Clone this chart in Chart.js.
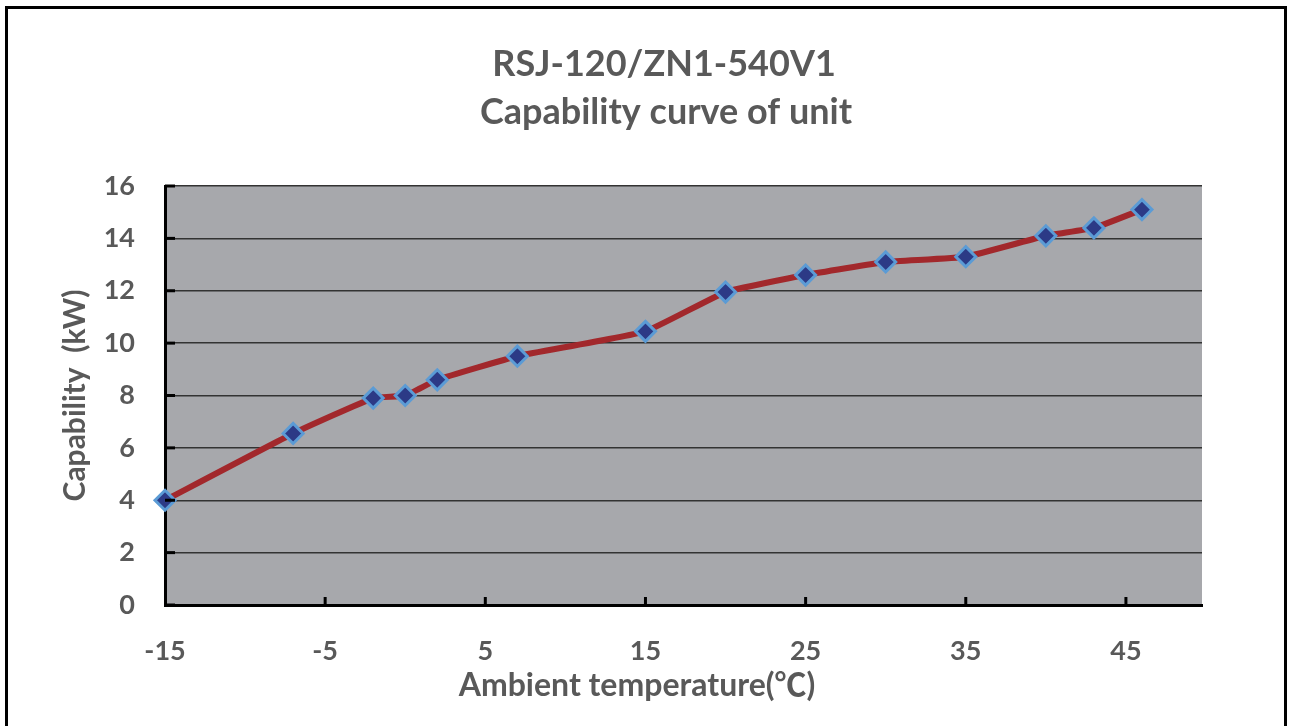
<!DOCTYPE html>
<html>
<head>
<meta charset="utf-8">
<script src="https://cdn.jsdelivr.net/npm/chart.js@4.4.1/dist/chart.umd.min.js"></script>
<style>
  html, body { margin: 0; padding: 0; background: #fff; }
  #wrap { width: 1294px; height: 726px; }
</style>
</head>
<body>
<div id="wrap"><canvas id="chart1" width="1294" height="726"></canvas></div>
<script>
// values
const temps = [-15, -7, -2, 0, 2, 7, 15, 20, 25, 30, 35, 40, 43, 46];
const capability = [4.0, 6.55, 7.9, 8.0, 8.6, 9.5, 10.45, 11.95, 12.6, 13.1, 13.3, 14.1, 14.4, 15.1];
const xTicks = [-15, -5, 5, 15, 25, 35, 45];
const yTicks = [0, 2, 4, 6, 8, 10, 12, 14, 16];
const titleLines = ['RSJ-120/ZN1-540V1', 'Capability curve of unit'];
const xTitle = 'Ambient temperature(℃)';
const yTitle = 'Capability  (kW)';

const grey = '#595959';
const fontFam = 'Lato, "Noto Sans CJK SC", sans-serif';

// plot background, frame, titles and the small inward tick marks
const decor = {
  id: 'decor',
  beforeDraw(chart) {
    const c = chart.ctx, a = chart.chartArea;
    c.save();
    c.fillStyle = '#a7a8ac';
    c.fillRect(a.left, a.top, a.right - a.left, a.bottom - a.top);
    c.restore();
  },
  afterDraw(chart) {
    const c = chart.ctx, a = chart.chartArea;
    const xs = chart.scales.x, ys = chart.scales.y;
    c.save();
    c.strokeStyle = '#000';
    c.lineWidth = 3;
    xTicks.forEach(v => {
      const px = xs.getPixelForValue(v);
      if (v === xTicks[0]) return;
      c.beginPath(); c.moveTo(px, a.bottom); c.lineTo(px, a.bottom - 8); c.stroke();
    });
    yTicks.forEach(v => {
      const py = ys.getPixelForValue(v);
      c.beginPath(); c.moveTo(a.left, py); c.lineTo(a.left + 10, py); c.stroke();
    });
    c.strokeRect(6.5, 7.5, 1279, 740);

    c.fillStyle = grey;
    c.textAlign = 'center';
    c.textBaseline = 'middle';
    c.font = 'bold 36px ' + fontFam;
    c.fillText(titleLines[0], 664, 64);
    c.fillText(titleLines[1], 666, 112);
    c.font = 'bold 32px ' + fontFam;
    c.fillText(xTitle, 637, 686);
    c.restore();
  }
};

const ctx = document.getElementById('chart1').getContext('2d');
new Chart(ctx, {
  type: 'line',
  data: {
    datasets: [{
      data: temps.map((t, i) => ({ x: t, y: capability[i] })),
      borderColor: '#a2282c',
      borderWidth: 6,
      tension: 0.12,
      fill: false,
      clip: false,
      pointStyle: 'rectRot',
      pointRadius: 10,
      pointBackgroundColor: '#2c3a86',
      pointBorderColor: '#5b9bd5',
      pointBorderWidth: 3
    }]
  },
  options: {
    responsive: false,
    animation: false,
    layout: { padding: { left: 0, right: 92, top: 186, bottom: 0 } },
    plugins: {
      legend: { display: false },
      tooltip: { enabled: false },
      title: { display: false }
    },
    scales: {
      x: {
        type: 'linear',
        min: -15,
        max: 49.75,
        afterBuildTicks: s => { s.ticks = xTicks.map(v => ({ value: v })); },
        afterFit: s => { s.height = 121; },
        grid: { display: false, drawTicks: false },
        border: { color: '#000', width: 3 },
        ticks: { color: grey, padding: 30, font: { family: fontFam, size: 27, weight: 'bold' } }
      },
      y: {
        min: 0,
        max: 16,
        afterBuildTicks: s => { s.ticks = yTicks.map(v => ({ value: v })); },
        afterFit: s => { s.width = 165; },
        grid: { color: '#333', lineWidth: 1.5, drawTicks: false },
        border: { color: '#000', width: 3 },
        ticks: { color: grey, padding: 30, font: { family: fontFam, size: 27, weight: 'bold' } },
        title: {
          display: true,
          text: yTitle,
          color: grey,
          font: { family: fontFam, size: 30, weight: 'bold' },
          padding: { top: 57, bottom: 0 }
        }
      }
    }
  },
  plugins: [decor]
});
</script>
</body>
</html>
